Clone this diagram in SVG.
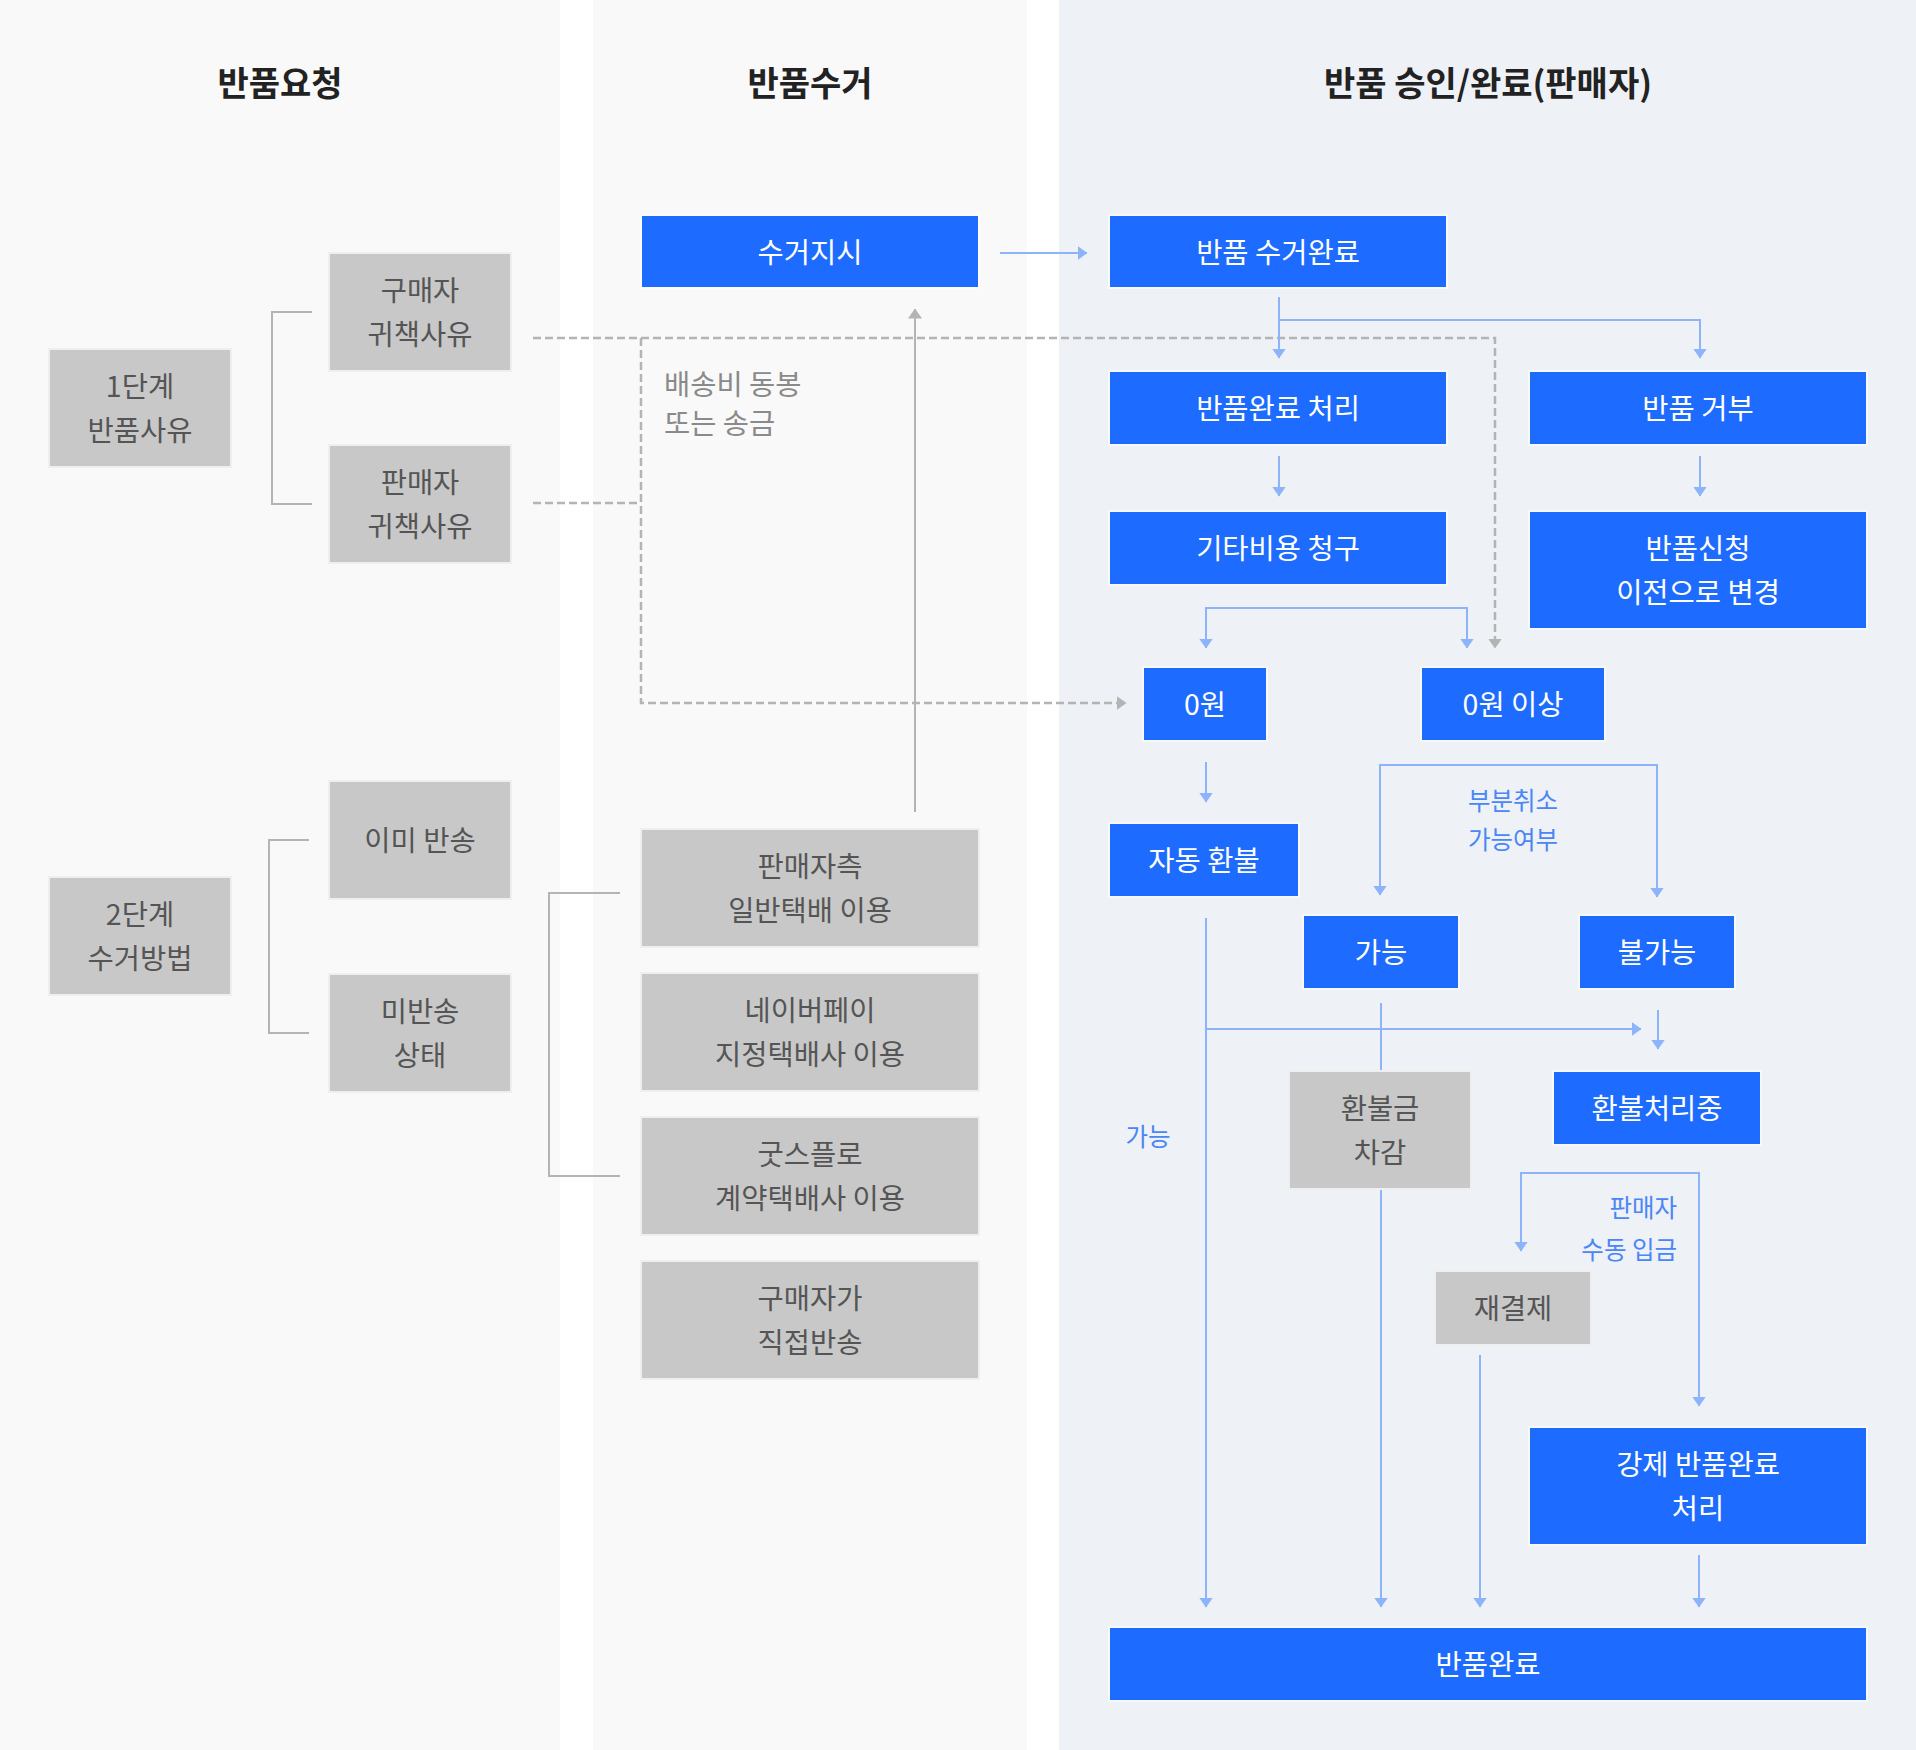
<svg xmlns="http://www.w3.org/2000/svg" width="1916" height="1750" viewBox="0 0 1916 1750">
<defs>
<style>
.hdr{font-family:"Noto Sans CJK KR","Noto Sans",sans-serif;font-size:34px;font-weight:700;fill:#222;text-anchor:middle;dominant-baseline:central}
.t{font-family:"Noto Sans CJK KR","Noto Sans",sans-serif;font-size:28.5px;text-anchor:middle;dominant-baseline:central}
.tw{fill:#fff}
.tg{fill:#555}
.lbl{font-family:"Noto Sans CJK KR","Noto Sans",sans-serif;font-size:24.5px;fill:#4a86f7;dominant-baseline:central}
.note{font-family:"Noto Sans CJK KR","Noto Sans",sans-serif;font-size:28.5px;fill:#8a8a8a;dominant-baseline:central}
.blue{fill:#1d6cff;stroke:rgba(255,255,255,0.55);stroke-width:4;paint-order:stroke}
.gray{fill:#c8c8c8;stroke:#efefef;stroke-width:4;paint-order:stroke}
.cb{fill:none;stroke:#8db4fb;stroke-width:2}
.cg{fill:none;stroke:#b4b4b4;stroke-width:2}
.cd{fill:none;stroke:#b4b4b4;stroke-width:2.5;stroke-dasharray:8 4}
</style>
<marker id="ab" viewBox="0 0 10 14" refX="9.5" refY="7" markerWidth="10" markerHeight="14" markerUnits="userSpaceOnUse" orient="auto-start-reverse">
<path d="M0,0 L10,7 L0,14 z" fill="#8db4fb"/>
</marker>
<marker id="ag" viewBox="0 0 10 14" refX="9.5" refY="7" markerWidth="10" markerHeight="14" markerUnits="userSpaceOnUse" orient="auto-start-reverse">
<path d="M0,0 L10,7 L0,14 z" fill="#b4b4b4"/>
</marker>
</defs>
<rect x="0" y="0" width="1916" height="1750" fill="#ffffff"/>
<rect x="0" y="0" width="560" height="1750" fill="#f9f9f9"/>
<rect x="593" y="0" width="434" height="1750" fill="#f9f9f9"/>
<rect x="1059" y="0" width="857" height="1750" fill="#eef1f6"/>

<g id="headers">
<text class="hdr" x="280" y="81">반품요청</text>
<text class="hdr" x="810" y="81">반품수거</text>
<text class="hdr" x="1488" y="81">반품 승인/완료(판매자)</text>
</g>

<g id="connectors">
<path class="cg" d="M312,312 H272 V504 H312"/>
<path class="cg" d="M309,840 H269 V1033 H309"/>
<path class="cg" d="M620,893 H549 V1176 H620"/>
<path class="cd" d="M533,338 H1495 V648" marker-end="url(#ag)"/>
<path class="cd" d="M533,503 H641"/>
<path class="cd" d="M641,338 V703 H1126" marker-end="url(#ag)"/>
<path class="cg" d="M915,812 V309" marker-end="url(#ag)"/>
<path class="cb" d="M1000,253 H1087" marker-end="url(#ab)"/>
<path class="cb" d="M1279,297 V358" marker-end="url(#ab)"/>
<path class="cb" d="M1279,320 H1700 V358" marker-end="url(#ab)"/>
<path class="cb" d="M1279,456 V496" marker-end="url(#ab)"/>
<path class="cb" d="M1700,456 V496" marker-end="url(#ab)"/>
<path class="cb" d="M1206,648 V608 H1467 V648" marker-start="url(#ab)" marker-end="url(#ab)"/>
<path class="cb" d="M1206,762 V802" marker-end="url(#ab)"/>
<path class="cb" d="M1380,895 V765 H1657 V897" marker-start="url(#ab)" marker-end="url(#ab)"/>
<path class="cb" d="M1206,918 V1607" marker-end="url(#ab)"/>
<path class="cb" d="M1206,1029 H1641" marker-end="url(#ab)"/>
<path class="cb" d="M1381,1003 V1071"/>
<path class="cb" d="M1381,1190 V1607" marker-end="url(#ab)"/>
<path class="cb" d="M1658,1010 V1049" marker-end="url(#ab)"/>
<path class="cb" d="M1521,1251 V1173 H1699 V1406" marker-start="url(#ab)" marker-end="url(#ab)"/>
<path class="cb" d="M1480,1355 V1607" marker-end="url(#ab)"/>
<path class="cb" d="M1699,1555 V1607" marker-end="url(#ab)"/>
</g>

<g id="labels">
<text class="note" x="664" y="382">배송비 동봉</text>
<text class="note" x="664" y="421">또는 송금</text>
<text class="lbl" x="1513" y="799" text-anchor="middle">부분취소</text>
<text class="lbl" x="1513" y="838" text-anchor="middle">가능여부</text>
<text class="lbl" x="1148" y="1135" text-anchor="middle">가능</text>
<text class="lbl" x="1677" y="1206" text-anchor="end">판매자</text>
<text class="lbl" x="1677" y="1248" text-anchor="end">수동 입금</text>
</g>

<g id="n-step1"><rect class="gray" x="50" y="350" width="180" height="116"/><text class="t tg" x="140" y="384">1단계</text><text class="t tg" x="140" y="428">반품사유</text></g>
<g id="n-buyer-fault"><rect class="gray" x="330" y="254" width="180" height="116"/><text class="t tg" x="420" y="288">구매자</text><text class="t tg" x="420" y="332">귀책사유</text></g>
<g id="n-seller-fault"><rect class="gray" x="330" y="446" width="180" height="116"/><text class="t tg" x="420" y="480">판매자</text><text class="t tg" x="420" y="524">귀책사유</text></g>
<g id="n-step2"><rect class="gray" x="50" y="878" width="180" height="116"/><text class="t tg" x="140" y="912">2단계</text><text class="t tg" x="140" y="956">수거방법</text></g>
<g id="n-already"><rect class="gray" x="330" y="782" width="180" height="116"/><text class="t tg" x="420" y="838">이미 반송</text></g>
<g id="n-notyet"><rect class="gray" x="330" y="975" width="180" height="116"/><text class="t tg" x="420" y="1009">미반송</text><text class="t tg" x="420" y="1053">상태</text></g>
<g id="n-seller-courier"><rect class="gray" x="642" y="830" width="336" height="116"/><text class="t tg" x="810" y="864">판매자측</text><text class="t tg" x="810" y="908">일반택배 이용</text></g>
<g id="n-npay"><rect class="gray" x="642" y="974" width="336" height="116"/><text class="t tg" x="810" y="1008">네이버페이</text><text class="t tg" x="810" y="1052">지정택배사 이용</text></g>
<g id="n-goodsflow"><rect class="gray" x="642" y="1118" width="336" height="116"/><text class="t tg" x="810" y="1152">굿스플로</text><text class="t tg" x="810" y="1196">계약택배사 이용</text></g>
<g id="n-direct"><rect class="gray" x="642" y="1262" width="336" height="116"/><text class="t tg" x="810" y="1296">구매자가</text><text class="t tg" x="810" y="1340">직접반송</text></g>

<g id="n-pickup-order"><rect class="blue" x="642" y="216" width="336" height="71"/><text class="t tw" x="810" y="250">수거지시</text></g>
<g id="n-pickup-done"><rect class="blue" x="1110" y="216" width="336" height="71"/><text class="t tw" x="1278" y="250">반품 수거완료</text></g>
<g id="n-complete-proc"><rect class="blue" x="1110" y="372" width="336" height="72"/><text class="t tw" x="1278" y="406">반품완료 처리</text></g>
<g id="n-reject"><rect class="blue" x="1530" y="372" width="336" height="72"/><text class="t tw" x="1698" y="406">반품 거부</text></g>
<g id="n-etc-fee"><rect class="blue" x="1110" y="512" width="336" height="72"/><text class="t tw" x="1278" y="546">기타비용 청구</text></g>
<g id="n-revert"><rect class="blue" x="1530" y="512" width="336" height="116"/><text class="t tw" x="1698" y="546">반품신청</text><text class="t tw" x="1698" y="590">이전으로 변경</text></g>
<g id="n-zero"><rect class="blue" x="1144" y="668" width="122" height="72"/><text class="t tw" x="1205" y="702">0원</text></g>
<g id="n-over-zero"><rect class="blue" x="1422" y="668" width="182" height="72"/><text class="t tw" x="1513" y="702">0원 이상</text></g>
<g id="n-auto-refund"><rect class="blue" x="1110" y="824" width="188" height="72"/><text class="t tw" x="1204" y="858">자동 환불</text></g>
<g id="n-possible"><rect class="blue" x="1304" y="916" width="154" height="72"/><text class="t tw" x="1381" y="950">가능</text></g>
<g id="n-impossible"><rect class="blue" x="1580" y="916" width="154" height="72"/><text class="t tw" x="1657" y="950">불가능</text></g>
<g id="n-deduct"><rect class="gray" x="1290" y="1072" width="180" height="116"/><text class="t tg" x="1380" y="1106">환불금</text><text class="t tg" x="1380" y="1150">차감</text></g>
<g id="n-refunding"><rect class="blue" x="1554" y="1072" width="206" height="72"/><text class="t tw" x="1657" y="1106">환불처리중</text></g>
<g id="n-repay"><rect class="gray" x="1436" y="1272" width="154" height="72"/><text class="t tg" x="1513" y="1306">재결제</text></g>
<g id="n-force"><rect class="blue" x="1530" y="1428" width="336" height="116"/><text class="t tw" x="1698" y="1462">강제 반품완료</text><text class="t tw" x="1698" y="1506">처리</text></g>
<g id="n-done"><rect class="blue" x="1110" y="1628" width="756" height="72"/><text class="t tw" x="1488" y="1662">반품완료</text></g>
</svg>
